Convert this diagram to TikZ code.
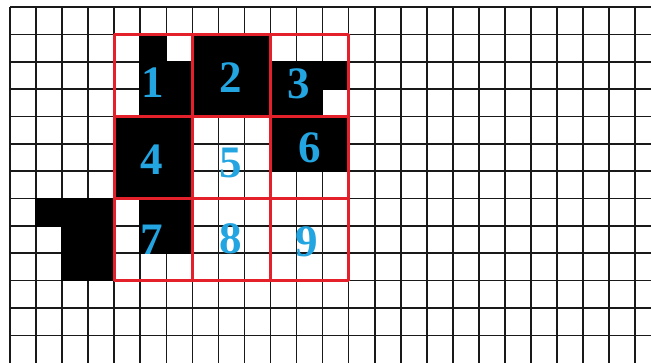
\documentclass[tikz,border=0pt]{standalone}
\usepackage{fontspec}
\setmainfont{Liberation Serif}
\definecolor{gridred}{RGB}{228,32,42}
\definecolor{digitblue}{RGB}{35,165,225}
\tikzset{
  gridline/.style={black!90, line width=1.6pt},
  redline/.style={gridred, line width=3.2pt},
  cellfill/.style={fill=black},
  digit/.style={text=digitblue, inner sep=0pt, font=\fontsize{45}{45}\selectfont\bfseries}
}
\begin{document}
\begin{tikzpicture}[x=1pt,y=1pt]
\useasboundingbox (0,0) rectangle (651,362);
\clip (0,0) rectangle (651,362);
\fill[white] (0,0) rectangle (651,362);
\begin{scope}[shift={(10,355)}, x=26.05pt, y=-27.36pt]
  % grid
  \foreach \i in {0,...,24}
    \draw[gridline] (\i,0) -- (\i,13.2);
  \foreach \j in {0,...,12}
    \draw[gridline] (0,\j) -- (24.7,\j);
  % black cells
  \foreach \c/\r in {5/1,5/2,6/2,5/3,6/3,
                     7/1,8/1,9/1,7/2,8/2,9/2,7/3,8/3,9/3,
                     10/2,11/2,12/2,10/3,11/3,
                     4/4,5/4,6/4,4/5,5/5,6/5,4/6,5/6,6/6,
                     10/4,11/4,12/4,10/5,11/5,12/5,
                     5/7,6/7,5/8,6/8,
                     1/7,2/7,3/7,2/8,3/8,2/9,3/9}
    \fill[cellfill] ([shift={(-0.8pt,0.8pt)}]\c,\r) rectangle ([shift={(0.8pt,-0.8pt)}]\c+1,\r+1);
  % red 3x3 block
  \foreach \k in {4,7,10,13}
    \draw[redline] (\k,1) -- (\k,10);
  \foreach \k in {1,4,7,10}
    \draw[redline] (4,\k) -- (13,\k);
\end{scope}
% digits
\node[digit] (n1) at (153,279) {1};
\node[digit] (n2) at (231,284) {2};
\node[digit] (n3) at (299,278) {3};
\node[digit] (n4) at (152,202) {4};
\node[digit] (n5) at (231,199) {5};
\node[digit] (n6) at (310,214) {6};
\node[digit] (n7) at (152,122) {7};
\node[digit] (n8) at (231,123) {8};
\node[digit] (n9) at (307,120) {9};
\end{tikzpicture}
\end{document}
